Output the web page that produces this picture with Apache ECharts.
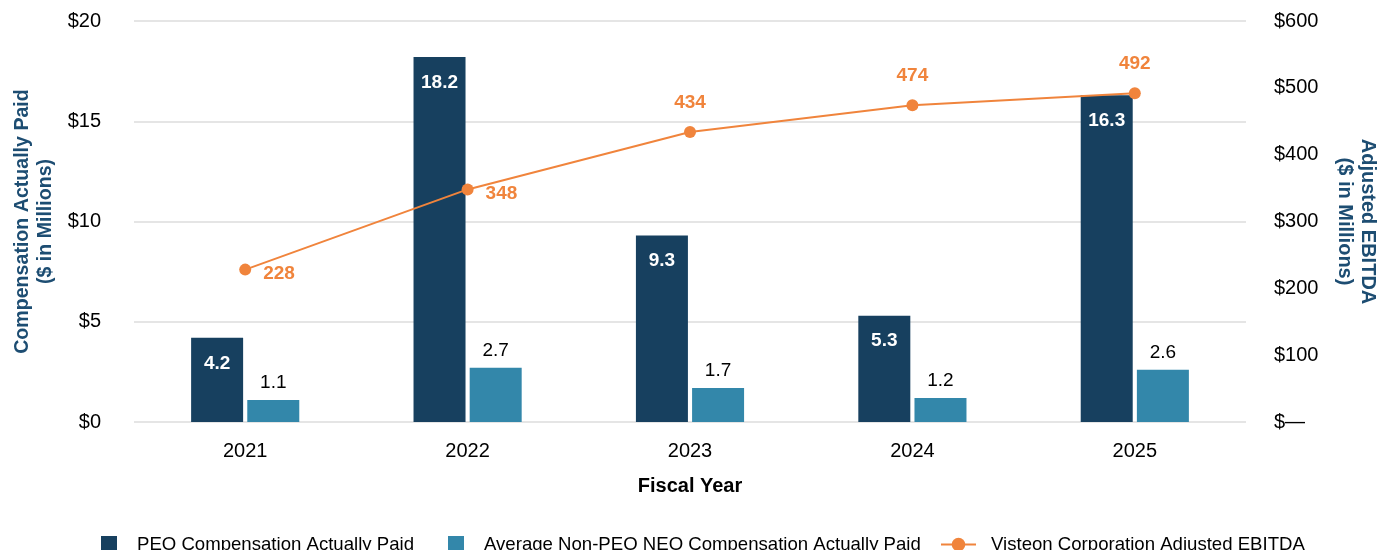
<!DOCTYPE html>
<html>
<head>
<meta charset="utf-8">
<script src="https://cdn.jsdelivr.net/npm/echarts@6/dist/echarts.min.js"></script>
<style>
  html, body { margin: 0; padding: 0; background: #fff; }
  #chart { width: 1382px; height: 550px; }
</style>
</head>
<body>
<div id="chart"></div>
<script>
// chart data
var years = ['2021', '2022', '2023', '2024', '2025'];
var peoPaid = [4.2, 18.2, 9.3, 5.3, 16.3];
var neoPaid = [1.1, 2.7, 1.7, 1.2, 2.6];
var ebitda = [228, 348, 434, 474, 492];

var navy = '#17405f';
var teal = '#3387aa';
var orange = '#f0843c';
var titleColor = '#1d4d72';
var font = '"Liberation Sans", Arial, sans-serif';

var myChart = echarts.init(document.getElementById('chart'));

// the first two line labels sit to the lower right of the point
var ebitdaData = ebitda.map(function (v, i) {
  if (i < 2) {
    return { value: v, label: { position: 'right', distance: 12, offset: [0, 4] } };
  }
  return v;
});

var option = {
  animation: false,
  textStyle: { fontFamily: font },
  grid: { left: 134, right: 136, top: 21, bottom: 128, outerBoundsMode: 'none' },
  legend: [
    {
      left: 96,
      top: 530,
      itemWidth: 16,
      itemHeight: 17,
      itemGap: 34,
      icon: 'rect',
      textStyle: { fontSize: 18.6, color: '#000', fontFamily: font, padding: [0, 0, 0, 15] },
      data: ['PEO Compensation Actually Paid', 'Average Non-PEO NEO Compensation Actually Paid']
    },
    {
      left: 935,
      top: 530,
      itemWidth: 35,
      itemHeight: 17,
      textStyle: { fontSize: 18.6, color: '#000', fontFamily: font, padding: [0, 0, 0, 10] },
      data: ['Visteon Corporation Adjusted EBITDA']
    }
  ],
  xAxis: {
    type: 'category',
    data: years,
    name: 'Fiscal Year',
    nameLocation: 'middle',
    nameGap: 54,
    nameTextStyle: { fontSize: 20, fontWeight: 'bold', color: '#000', fontFamily: font },
    axisLine: { show: false },
    axisTick: { show: false },
    axisLabel: { fontSize: 20, color: '#000', margin: 19, fontFamily: font }
  },
  yAxis: [
    {
      type: 'value',
      min: 0,
      max: 20,
      interval: 5,
      name: 'Compensation Actually Paid\n($ in Millions)',
      nameLocation: 'middle',
      nameRotate: 90,
      nameGap: 77,
      nameTextStyle: { fontSize: 19.6, fontWeight: 'bold', color: titleColor, lineHeight: 23, fontFamily: font },
      axisLine: { show: false },
      axisTick: { show: false },
      axisLabel: { fontSize: 20, color: '#000', margin: 33, fontFamily: font, formatter: '${value}' },
      splitLine: { lineStyle: { color: '#dcdcdc', width: 1.5 } }
    },
    {
      type: 'value',
      min: 0,
      max: 600,
      interval: 100,
      position: 'right',
      name: 'Adjusted EBITDA\n($ in Millions)',
      nameLocation: 'middle',
      nameRotate: -90,
      nameGap: 87,
      nameTextStyle: { fontSize: 20, fontWeight: 'bold', color: titleColor, lineHeight: 23, fontFamily: font },
      axisLine: { show: false },
      axisTick: { show: false },
      axisLabel: {
        fontSize: 20, color: '#000', margin: 28, fontFamily: font, align: 'left',
        formatter: function (v) { return v === 0 ? '$\u2014' : '$' + v; }
      },
      splitLine: { show: false }
    }
  ],
  series: [
    {
      name: 'PEO Compensation Actually Paid',
      type: 'bar',
      data: peoPaid,
      barWidth: 52,
      barGap: '8%',
      itemStyle: { color: navy },
      label: {
        show: true,
        position: 'insideTop',
        distance: 16,
        color: '#fff',
        fontSize: 19,
        fontWeight: 'bold',
        fontFamily: font,
        formatter: function (p) { return p.value.toFixed(1); }
      }
    },
    {
      name: 'Average Non-PEO NEO Compensation Actually Paid',
      type: 'bar',
      data: neoPaid,
      barWidth: 52,
      itemStyle: { color: teal },
      label: {
        show: true,
        position: 'top',
        distance: 8,
        color: '#000',
        fontSize: 19,
        fontFamily: font,
        formatter: function (p) { return p.value.toFixed(1); }
      }
    },
    {
      name: 'Visteon Corporation Adjusted EBITDA',
      type: 'line',
      yAxisIndex: 1,
      data: ebitdaData,
      symbol: 'circle',
      symbolSize: 12,
      itemStyle: { color: orange },
      lineStyle: { color: orange, width: 2 },
      label: {
        show: true,
        position: 'top',
        distance: 14,
        color: orange,
        fontSize: 19,
        fontWeight: 'bold',
        fontFamily: font
      }
    }
  ]
};

myChart.setOption(option);
</script>
</body>
</html>
